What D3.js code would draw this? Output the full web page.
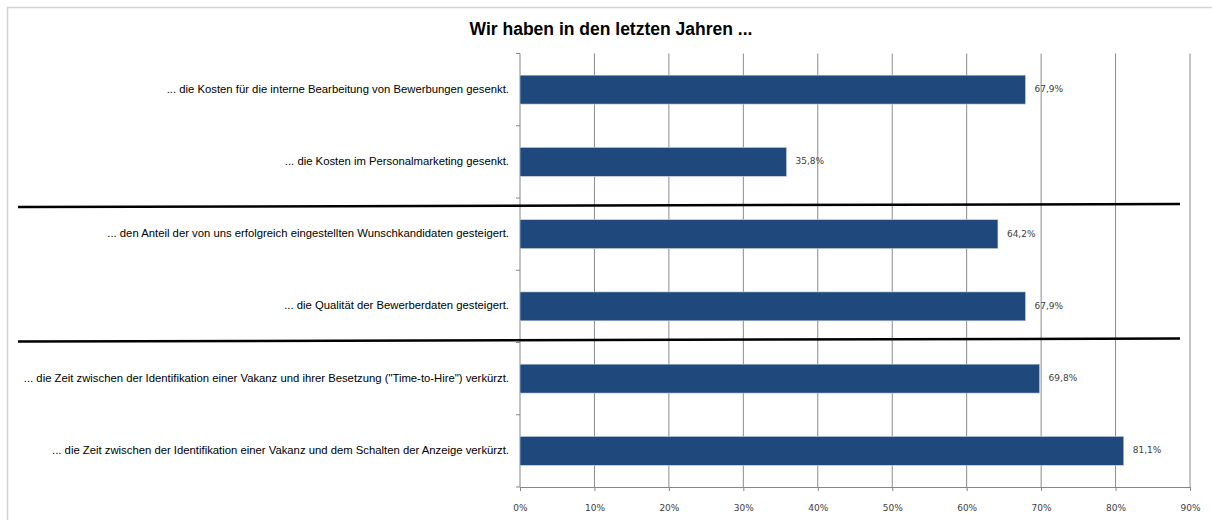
<html>
<head>
    <meta charset="utf-8">
    <title>Wir haben in den letzten Jahren ...</title>
    <style>
        body {
            margin: 0;
            background: white;
            font-family: "Liberation Sans", Arial, sans-serif;
        }
        .grid line {
            stroke: #8c8c8c;
        }
        .x-axis path, .x-axis line {
            stroke: #868686;
        }
    </style>
    <script src="https://cdn.jsdelivr.net/npm/d3@7"></script>
</head>
<body>
    <div class="mainView"></div>
<script>
    let categories = [
        "... die Kosten für die interne Bearbeitung von Bewerbungen gesenkt.",
        "... die Kosten im Personalmarketing gesenkt.",
        "... den Anteil der von uns erfolgreich eingestellten Wunschkandidaten gesteigert.",
        "... die Qualität der Bewerberdaten gesteigert.",
        "... die Zeit zwischen der Identifikation einer Vakanz und ihrer Besetzung (\"Time-to-Hire\") verkürzt.",
        "... die Zeit zwischen der Identifikation einer Vakanz und dem Schalten der Anzeige verkürzt."
    ]
    let values = [0.679, 0.358, 0.642, 0.679, 0.698, 0.811]
    let valueLabels = ["67,9%", "35,8%", "64,2%", "67,9%", "69,8%", "81,1%"]
    let xTicks = [0, 0.1, 0.2, 0.3, 0.4, 0.5, 0.6, 0.7, 0.8, 0.9]
    // separator lines drawn after these category indexes
    let separatorsAfter = [1, 3]
    let title = "Wir haben in den letzten Jahren ..."

    function getChartConfig() {
        let width = 1212;
        let height = 520;
        let margin = { top: 53.5, bottom: 33, left: 520, right: 22 }
        let bodyHeight = height - margin.top - margin.bottom;
        let bodyWidth = width - margin.left - margin.right;
        let svg = d3.select(".mainView")
            .append("svg")
            .attr("width", width)
            .attr("height", height)
            .attr("id", "Chart")
        // frame first so everything sits on top of it
        svg.append("rect")
            .attr("x", 7.5)
            .attr("y", 7.5)
            .attr("width", width)
            .attr("height", height)
            .attr("fill", "white")
            .attr("stroke", "#d4d4d4")
            .attr("stroke-width", 1.5)
        let container = svg.append("g")
            .attr("transform", "translate(" + [margin.left, margin.top] + ")")
        return { width, height, margin, bodyHeight, bodyWidth, svg, container };
    }

    function getChartScales(config) {
        let { bodyWidth, bodyHeight } = config;
        let xScale = d3.scaleLinear()
            .domain([0, 0.9])
            .range([0, bodyWidth])
        let yScale = d3.scaleBand()
            .domain(categories)
            .range([0, bodyHeight])
            .paddingInner(0.6)
            .paddingOuter(0.3)
        return { xScale, yScale }
    }

    function drawTitle(config) {
        config.svg.append("text")
            .attr("x", 611)
            .attr("y", 30)
            .attr("text-anchor", "middle")
            .attr("dominant-baseline", "middle")
            .style("font-size", "17.5px")
            .style("font-weight", "bold")
            .text(title)
    }

    function drawAxes(scales, config) {
        let { xScale, yScale } = scales;
        let { container, bodyHeight } = config;

        container.append("g")
            .attr("class", "grid")
            .selectAll("line")
            .data(xTicks.slice(1))
            .enter()
            .append("line")
            .attr("x1", d => xScale(d))
            .attr("x2", d => xScale(d))
            .attr("y1", 0)
            .attr("y2", bodyHeight)

        let axisX = d3.axisBottom(xScale)
            .tickValues(xTicks)
            .tickSizeInner(4)
            .tickSizeOuter(0)
            .tickFormat(d => Math.round(d * 100) + "%")
        let gx = container.append("g")
            .attr("class", "x-axis")
            .attr("transform", "translate(0," + bodyHeight + ")")
            .call(axisX)
        gx.selectAll("text")
            .attr("dy", "0")
            .attr("y", 24)
            .style("font-size", "9px")
            .style("font-family", "'DejaVu Sans', sans-serif")
            .attr("fill", "#404040")

        // category axis with ticks between categories
        let step = yScale.step();
        let y0 = yScale(categories[0]) - step * yScale.paddingInner() / 2;
        let boundaries = d3.range(categories.length + 1).map(i => y0 + i * step);
        let gy = container.append("g").attr("class", "y-axis")
        gy.append("line")
            .attr("x1", 0).attr("x2", 0)
            .attr("y1", 0).attr("y2", bodyHeight)
            .attr("stroke", "#868686")
        gy.selectAll(".tick")
            .data(boundaries)
            .enter()
            .append("line")
            .attr("x1", -4).attr("x2", 0)
            .attr("y1", d => d).attr("y2", d => d)
            .attr("stroke", "#868686")
        gy.selectAll("text")
            .data(categories)
            .enter()
            .append("text")
            .attr("x", -11)
            .attr("y", d => yScale(d) + yScale.bandwidth() / 2)
            .attr("text-anchor", "end")
            .attr("dominant-baseline", "middle")
            .style("font-size", "11.3px")
            .attr("fill", "#000")
            .text(d => d)
    }

    function drawBars(scales, config) {
        let { xScale, yScale } = scales;
        let { container } = config;
        let rows = categories.map((c, i) => ({ cat: c, value: values[i], label: valueLabels[i] }))
        container.selectAll(".bar")
            .data(rows)
            .enter()
            .append("rect")
            .attr("class", "bar")
            .attr("x", 0)
            .attr("y", d => yScale(d.cat))
            .attr("width", d => xScale(d.value))
            .attr("height", yScale.bandwidth())
            .attr("fill", "#1F497D")
            .attr("stroke", "#c5d2e3")
            .attr("stroke-width", 0.6)
        container.selectAll(".val")
            .data(rows)
            .enter()
            .append("text")
            .attr("class", "val")
            .attr("x", d => xScale(d.value) + 9)
            .attr("y", d => yScale(d.cat) + yScale.bandwidth() / 2)
            .attr("dominant-baseline", "middle")
            .style("font-size", "9px")
            .style("font-family", "'DejaVu Sans', sans-serif")
            .attr("fill", "#404040")
            .text(d => d.label)
    }

    function drawSeparators(scales, config) {
        let { yScale } = scales;
        let { svg, margin } = config;
        let step = yScale.step();
        separatorsAfter.forEach((idx, k) => {
            let yb = margin.top + yScale(categories[idx]) + yScale.bandwidth() + step * yScale.paddingInner() / 2;
            let off = k === 0 ? 9 : -1;
            svg.append("line")
                .attr("x1", 18)
                .attr("x2", 1180)
                .attr("y1", yb + off)
                .attr("y2", yb + off - 3)
                .attr("stroke", "#000")
                .attr("stroke-width", 2.5)
        })
    }

    function showData() {
        let config = getChartConfig();
        drawTitle(config);
        let scales = getChartScales(config);
        drawAxes(scales, config);
        drawBars(scales, config);
        drawSeparators(scales, config);
    }
    showData();
</script>
</body>
</html>
